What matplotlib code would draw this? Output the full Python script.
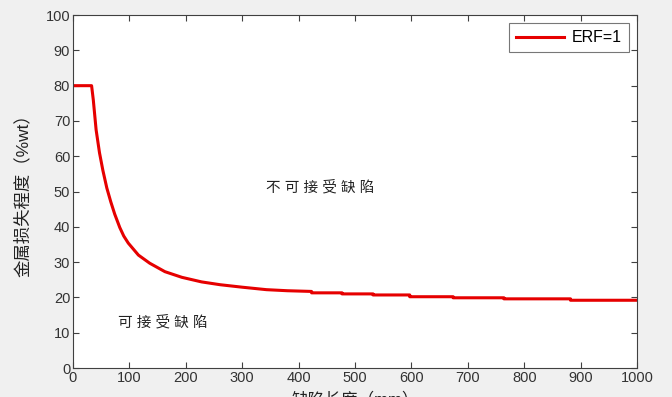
import matplotlib
matplotlib.use("Agg")
import matplotlib.pyplot as plt

plt.rcParams['font.family'] = ['Liberation Sans', 'Noto Sans CJK SC', 'DejaVu Sans']

# curve (defect length vs. metal loss)
defect_len = [0, 33, 36, 41, 47, 53, 60, 67, 74, 83, 90, 98, 116, 136, 163, 193,
              228, 261, 300, 343, 380, 423,
              423, 477, 477, 532, 532, 597, 597, 674, 674, 764, 764, 882, 882, 1000]
metal_loss = [80, 80, 76, 67.5, 61, 56, 51, 47.1, 43.6, 39.8, 37.4, 35.4, 32, 29.7, 27.3, 25.7,
              24.4, 23.6, 22.9, 22.2, 21.9, 21.7,
              21.3, 21.3, 21.0, 21.0, 20.7, 20.7, 20.2, 20.2, 19.9, 19.9, 19.6, 19.6, 19.2, 19.2]

x_ticks = list(range(0, 1001, 100))
y_ticks = list(range(0, 101, 10))

fig = plt.figure(figsize=(6.72, 3.97), dpi=100, facecolor='#f0f0f0')
ax = fig.add_axes([0.1086, 0.073, 0.8394, 0.889])
ax.set_facecolor('white')

ax.plot(defect_len, metal_loss, color='#e60000', linewidth=2.2, label='ERF=1')

ax.set_xlim(0, 1000)
ax.set_ylim(0, 100)
ax.set_xticks(x_ticks)
ax.set_yticks(y_ticks)
ax.tick_params(direction='in', top=True, right=True, length=4, width=0.8,
               colors='#404040', labelsize=10.5, labelcolor='#333333', pad=2)
for s in ax.spines.values():
    s.set_color('#404040')
    s.set_linewidth(0.8)

ax.set_ylabel('金属损失程度（%wt）', fontsize=12.5, color='#222222', labelpad=11)
ax.set_xlabel('缺陷长度（mm）', fontsize=12, color='#222222', labelpad=5)

ax.text(438, 51.3, '不 可 接 受 缺 陷', fontsize=10.5, color='#222222',
        ha='center', va='center')
ax.text(160, 13, '可 接 受 缺 陷', fontsize=10.5, color='#222222',
        ha='center', va='center')

leg = ax.legend(loc='upper right', fontsize=11.5, frameon=True, fancybox=False,
                handlelength=3.0, borderaxespad=0.5, borderpad=0.45,
                handletextpad=0.5)
leg.get_frame().set_edgecolor('#555555')
leg.get_frame().set_linewidth(0.8)

fig.savefig('out.png', dpi=100, facecolor=fig.get_facecolor())
